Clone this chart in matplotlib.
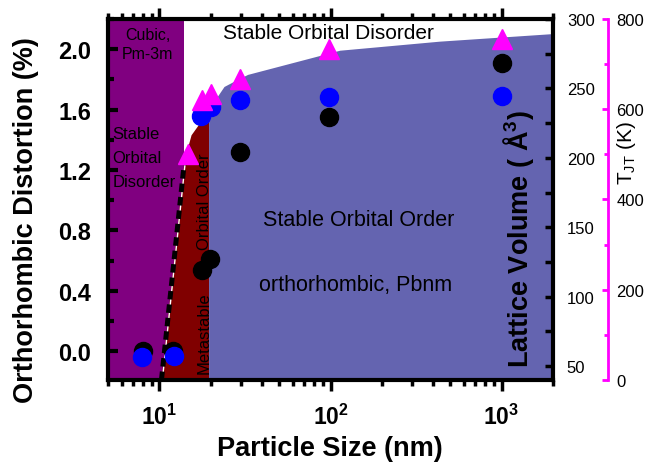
"""Particle-size phase diagram: orthorhombic distortion, lattice volume and T_JT."""

import matplotlib

matplotlib.use("Agg")
import matplotlib.pyplot as plt
from matplotlib.ticker import FixedLocator, MultipleLocator, NullFormatter

plt.rcParams["font.family"] = ["Liberation Sans", "DejaVu Sans"]
plt.rcParams["mathtext.fontset"] = "custom"
plt.rcParams["mathtext.rm"] = "Liberation Sans"
plt.rcParams["mathtext.bf"] = "Liberation Sans:bold"
plt.rcParams["mathtext.default"] = "regular"

# measured points
size_distortion = [8.0, 12.0, 17.8, 19.8, 29.6, 98.6, 1000.0]
distortion = [0.0, 0.0, 0.54, 0.61, 1.32, 1.55, 1.91]
size_volume = [7.9, 12.1, 17.5, 20.0, 29.6, 98.6, 1000.0]
volume = [56.5, 57.0, 230.0, 236.6, 241.6, 243.8, 244.5]
size_tjt = [14.7, 17.8, 20.0, 29.6, 98.6, 1000.0]
t_jt = [501, 621, 634, 667, 733, 756]

# phase-region boundaries (particle size nm, distortion %)
cubic_edge = 14.0
meta_x = [10.27, 14.0, 15.4, 17.3, 19.5, 19.5]
meta_y = [-0.19, 1.26, 1.43, 1.51, 1.54, -0.19]
order_x = [19.5, 19.5, 21.5, 24.0, 28.0, 33.0, 114.0, 437.0, 2000.0, 2000.0]
order_y = [-0.19, 1.54, 1.67, 1.75, 1.79, 1.83, 1.99, 2.05, 2.10, -0.19]
dash_x = [10.27, 14.0]
dash_y = [-0.19, 1.26]

x_ticks = [10, 100, 1000]
x_tick_labels = [r"$\mathbf{10^{1}}$", r"$\mathbf{10^{2}}$", r"$\mathbf{10^{3}}$"]

PURPLE = "#800080"
DARK_RED = "#800000"
SLATE = "#6464B0"
MAGENTA = "#FF00FF"
W, H = 663, 464


def fx(px):
    return px / W


def fy(py):
    return 1 - py / H


fig = plt.figure(figsize=(6.63, 4.64), dpi=100)
ax = fig.add_axes([fx(108), fy(381), fx(553) - fx(108), fy(20) - fy(381)])
ax.set_xscale("log")
ax.set_xlim(5, 2000)
ax.set_ylim(-0.19, 2.2)

ax.axvspan(5, cubic_edge, color=PURPLE, lw=0, zorder=0)
ax.fill(meta_x, meta_y, color=DARK_RED, lw=0, zorder=0.5)
ax.fill(order_x, order_y, color=SLATE, lw=0, zorder=0.5)
ax.plot([x * 1.012 for x in dash_x], dash_y, color="white", lw=1.0, zorder=1)
ax.plot(dash_x, dash_y, color="black", lw=3.6, dashes=(1.7, 1.0), zorder=1.1)

ax.plot(size_distortion, distortion, "o", color="black", ms=13, zorder=3)

for side in ax.spines.values():
    side.set_linewidth(3)
ax.spines["right"].set_visible(False)

ax.xaxis.set_major_locator(FixedLocator(x_ticks))
ax.set_xticklabels(x_tick_labels)
ax.xaxis.set_minor_formatter(NullFormatter())
ax.tick_params(axis="x", which="both", direction="out", top=True, bottom=True,
               width=2.5, labelsize=16.5, pad=9)
ax.tick_params(axis="x", which="major", length=8)
ax.tick_params(axis="x", which="minor", length=4.5)
ax.yaxis.set_major_locator(MultipleLocator(0.4))
ax.yaxis.set_minor_locator(MultipleLocator(0.2))
ax.yaxis.set_major_formatter(lambda v, pos: f"{v:.1f}")
ax.tick_params(axis="y", which="both", direction="in", left=True, right=False,
               width=3, labelsize=17, pad=12)
ax.tick_params(axis="y", which="major", length=7)
ax.tick_params(axis="y", which="minor", length=4)
for lab in ax.get_yticklabels():
    lab.set_fontweight("bold")

# lattice volume axis
ax_vol = ax.twinx()
ax_vol.set_ylim(40, 300)
for key in ("left", "top", "bottom"):
    ax_vol.spines[key].set_visible(False)
ax_vol.spines["right"].set_linewidth(3)
ax_vol.yaxis.set_major_locator(MultipleLocator(50))
ax_vol.yaxis.set_minor_locator(MultipleLocator(25))
ax_vol.tick_params(axis="y", which="both", direction="in", width=2.5, length=6,
                   labelsize=12, pad=10)
ax_vol.plot(size_volume, volume, "o", color="#0000FF", ms=13, zorder=3)

# Jahn-Teller temperature axis
ax_t = ax.twinx()
ax_t.set_ylim(0, 800)
for key in ("left", "top", "bottom"):
    ax_t.spines[key].set_visible(False)
ax_t.spines["right"].set_position(("axes", (608 - 108) / 445))
ax_t.spines["right"].set_color(MAGENTA)
ax_t.spines["right"].set_linewidth(2)
ax_t.yaxis.set_major_locator(MultipleLocator(200))
ax_t.yaxis.set_minor_locator(MultipleLocator(100))
ax_t.tick_params(axis="y", which="both", direction="in", color=MAGENTA, width=2,
                 labelsize=12, pad=6)
ax_t.tick_params(axis="y", which="major", length=4)
ax_t.tick_params(axis="y", which="minor", length=3)
ax_t.plot(size_tjt, t_jt, "^", color=MAGENTA, ms=14, zorder=4)

# region annotations
ax.text(8.5, 2.15, "Cubic,\nPm-3m", fontsize=11.5, ha="center", va="top",
        linespacing=1.35, zorder=2)
ax.text(5.32, 1.285, "Stable\nOrbital\nDisorder", fontsize=12, ha="left",
        va="center", linespacing=1.75, zorder=2)
ax.text(97.3, 2.11, "Stable Orbital Disorder", fontsize=15, ha="center",
        va="center", zorder=2)
ax.text(146.6, 0.874, "Stable Orbital Order", fontsize=15.5, ha="center",
        va="center", zorder=2)
ax.text(141, 0.444, "orthorhombic, Pbnm", fontsize=15.5, ha="center",
        va="center", zorder=2)
ax.text(18.3, 1.0, "Orbital Order", fontsize=12, rotation=90, ha="center",
        va="center", zorder=2)
ax.text(18.3, 0.126, "Metastable", fontsize=12, rotation=90, ha="center",
        va="center", zorder=2)

# axis titles
fig.text(fx(26), fy(220), "Orthorhombic Distortion (%)", fontsize=19.5,
         fontweight="bold", rotation=90, ha="center", va="center")
fig.text(fx(330), fy(449), "Particle Size (nm)", fontsize=19.5,
         fontweight="bold", ha="center", va="center")
fig.text(fx(519), fy(239), "Lattice Volume ( Å$^{3}$)", fontsize=19.5,
         fontweight="bold", rotation=90, ha="center", va="center", zorder=10)
fig.text(fx(626), fy(153), r"T$_{JT}$ (K)", fontsize=15, rotation=90,
         ha="center", va="center")

fig.savefig("out.png", dpi=100)
